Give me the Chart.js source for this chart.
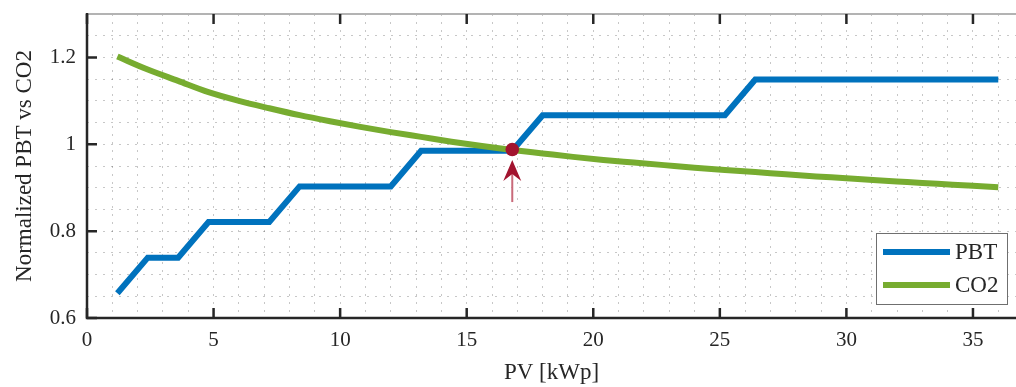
<!DOCTYPE html>
<html>
<head>
<meta charset="utf-8">
<script src="https://cdn.jsdelivr.net/npm/chart.js@4.4.0/dist/chart.umd.min.js"></script>
<style>
  html, body { margin: 0; padding: 0; background: #fff; }
  #wrap { width: 1016px; height: 387px; }
</style>
</head>
<body>
<div id="wrap"><canvas id="pvChart" width="1016" height="387"></canvas></div>
<script>
var pvSizes = [1.2, 2.4, 3.6, 4.8, 6.0, 7.2, 8.4, 9.6, 10.8, 12.0,
  13.2, 14.4, 15.6, 16.8, 18.0, 19.2, 20.4, 21.6, 22.8, 24.0,
  25.2, 26.4, 27.6, 28.8, 30.0, 31.2, 32.4, 33.6, 34.8, 36.0];
var pbtValues = [0.657, 0.739, 0.739, 0.821, 0.821, 0.821, 0.903, 0.903, 0.903, 0.903,
  0.985, 0.985, 0.985, 0.985, 1.067, 1.067, 1.067, 1.067, 1.067, 1.067,
  1.067, 1.149, 1.149, 1.149, 1.149, 1.149, 1.149, 1.149, 1.149, 1.149];
var co2Values = [1.202, 1.172, 1.146, 1.120, 1.100, 1.083, 1.067, 1.053, 1.040, 1.028,
  1.017, 1.006, 0.996, 0.987, 0.979, 0.971, 0.964, 0.958, 0.952, 0.946,
  0.941, 0.936, 0.931, 0.926, 0.922, 0.917, 0.913, 0.909, 0.905, 0.901];

var xMajorTicks = [0, 5, 10, 15, 20, 25, 30, 35];
var yMajorTicks = [0.6, 0.8, 1.0, 1.2];
var seriesLabels = ['PBT', 'CO2'];

// break-even point and the arrow under it
var crossPoint = { x: 16.8, y: 0.988 };
var arrowTipY = 0.964;
var arrowTailY = 0.867;

var textColor = '#262626';
var fontName = "'Liberation Serif', 'Times New Roman', serif";
var blue = '#0072BD';
var green = '#77AC30';
var red = '#A2142F';

function isMajor(list, v) {
  return list.some(function (m) { return Math.abs(m - v) < 1e-6; });
}

var gridOpts = {
  color: 'rgba(0,0,0,0.22)',
  lineWidth: 1,
  drawTicks: false
};

// axes box, inward tick marks, marker and legend
var frameAndExtras = {
  id: 'frameAndExtras',
  afterDraw: function (chart) {
    var ctx = chart.ctx;
    var a = chart.chartArea;
    var xs = chart.scales.x, ys = chart.scales.y;
    ctx.save();
    ctx.setLineDash([]);

    // top box edge
    ctx.strokeStyle = '#b3b3b3';
    ctx.lineWidth = 2;
    ctx.beginPath();
    ctx.moveTo(a.left, a.top);
    ctx.lineTo(a.right, a.top);
    ctx.stroke();

    // axis lines
    ctx.strokeStyle = textColor;
    ctx.lineWidth = 2.5;
    ctx.beginPath();
    ctx.moveTo(a.left, a.top - 1);
    ctx.lineTo(a.left, a.bottom);
    ctx.lineTo(a.right, a.bottom);
    ctx.stroke();

    // inward ticks
    ctx.beginPath();
    xMajorTicks.forEach(function (v) {
      var px = xs.getPixelForValue(v);
      ctx.moveTo(px, a.bottom);
      ctx.lineTo(px, a.bottom - 10);
      ctx.moveTo(px, a.top);
      ctx.lineTo(px, a.top + 10);
    });
    yMajorTicks.forEach(function (v) {
      var py = ys.getPixelForValue(v);
      ctx.moveTo(a.left, py);
      ctx.lineTo(a.left + 10, py);
    });
    ctx.stroke();

    // arrow pointing at the crossing
    var cx = xs.getPixelForValue(crossPoint.x);
    var tipY = ys.getPixelForValue(arrowTipY);
    var tailY = ys.getPixelForValue(arrowTailY);
    ctx.strokeStyle = '#c96a7a';
    ctx.lineWidth = 2;
    ctx.beginPath();
    ctx.moveTo(cx, tipY + 14);
    ctx.lineTo(cx, tailY);
    ctx.stroke();
    ctx.fillStyle = red;
    ctx.beginPath();
    ctx.moveTo(cx, tipY);
    ctx.lineTo(cx + 9, tipY + 21);
    ctx.lineTo(cx, tipY + 14);
    ctx.lineTo(cx - 9, tipY + 21);
    ctx.closePath();
    ctx.fill();

    // crossing marker
    ctx.beginPath();
    ctx.arc(cx, ys.getPixelForValue(crossPoint.y), 6.8, 0, Math.PI * 2);
    ctx.fill();

    // legend box
    var bx = a.right - 140, by = a.bottom - 85, bw = 131, bh = 71;
    ctx.fillStyle = '#fff';
    ctx.fillRect(bx, by, bw, bh);
    ctx.strokeStyle = '#6f6f6f';
    ctx.lineWidth = 1;
    ctx.strokeRect(bx + 0.5, by + 0.5, bw, bh);
    ctx.font = '23px ' + fontName;
    ctx.textBaseline = 'middle';
    ctx.textAlign = 'left';
    chart.data.datasets.forEach(function (ds, i) {
      var ly = by + 19 + i * 33;
      ctx.strokeStyle = ds.borderColor;
      ctx.lineWidth = 6;
      ctx.beginPath();
      ctx.moveTo(bx + 7, ly);
      ctx.lineTo(bx + 74, ly);
      ctx.stroke();
      ctx.fillStyle = textColor;
      ctx.fillText(ds.label, bx + 79, ly + 1);
    });
    ctx.restore();
  }
};

var ctx = document.getElementById('pvChart').getContext('2d');
new Chart(ctx, {
  type: 'line',
  data: {
    datasets: [{
      label: seriesLabels[0],
      data: pvSizes.map(function (x, i) { return { x: x, y: pbtValues[i] }; }),
      borderColor: blue,
      borderWidth: 6,
      pointRadius: 0,
      tension: 0,
      order: 2
    }, {
      label: seriesLabels[1],
      data: pvSizes.map(function (x, i) { return { x: x, y: co2Values[i] }; }),
      borderColor: green,
      borderWidth: 6,
      pointRadius: 0,
      cubicInterpolationMode: 'monotone',
      order: 1
    }]
  },
  options: {
    responsive: false,
    animation: false,
    devicePixelRatio: 1,
    layout: { padding: { top: 14, right: 0, left: 0, bottom: 0 } },
    plugins: {
      legend: { display: false },
      tooltip: { enabled: false }
    },
    scales: {
      x: {
        type: 'linear',
        min: 0,
        max: 36.7,
        grid: gridOpts,
        border: { display: false, dash: [2, 6] },
        afterBuildTicks: function (scale) {
          var t = [];
          for (var i = 0; i <= 36; i++) t.push({ value: i });
          scale.ticks = t;
        },
        ticks: {
          autoSkip: false,
          maxRotation: 0,
          padding: 10,
          color: textColor,
          font: { family: fontName, size: 21 },
          callback: function (v) { return isMajor(xMajorTicks, v) ? String(v) : ''; }
        },
        title: {
          display: true,
          text: 'PV [kWp]',
          color: textColor,
          font: { family: fontName, size: 23 },
          padding: { top: 0, bottom: 0 }
        },
        afterFit: function (scale) {
          scale.height = 69;
          scale.paddingLeft = 0;
          scale.paddingRight = 0;
        }
      },
      y: {
        type: 'linear',
        min: 0.6,
        max: 1.3,
        grid: gridOpts,
        border: { display: false, dash: [2, 6] },
        afterBuildTicks: function (scale) {
          var t = [];
          for (var i = 0; i <= 14; i++) t.push({ value: Math.round((0.6 + i * 0.05) * 100) / 100 });
          scale.ticks = t;
        },
        ticks: {
          autoSkip: false,
          padding: 11,
          color: textColor,
          font: { family: fontName, size: 21 },
          callback: function (v) { return isMajor(yMajorTicks, v) ? String(+v.toFixed(1)) : ''; }
        },
        title: {
          display: true,
          text: 'Normalized PBT vs CO2',
          color: textColor,
          font: { family: fontName, size: 23 },
          padding: { top: 11, bottom: 0 }
        },
        afterFit: function (scale) {
          scale.width = 87;
          scale.paddingTop = 0;
          scale.paddingBottom = 0;
        }
      }
    }
  },
  plugins: [frameAndExtras]
});
</script>
</body>
</html>
